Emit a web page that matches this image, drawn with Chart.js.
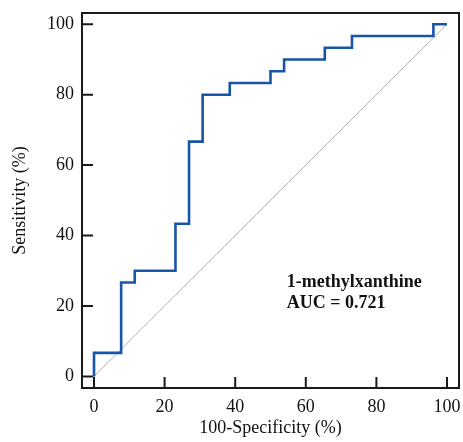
<!DOCTYPE html>
<html>
<head>
<meta charset="utf-8">
<script src="https://cdn.jsdelivr.net/npm/chart.js@4.4.1/dist/chart.umd.min.js"></script>
<style>
  html, body { margin: 0; padding: 0; background: #fff; }
  #wrap { width: 463px; height: 442px; }
</style>
</head>
<body>
<div id="wrap"><canvas id="roc"></canvas></div>
<script>
// ROC curve, 1-methylxanthine
const fpr = [0, 0, 7.69, 7.69, 11.54, 11.54, 23.08, 23.08, 26.92, 26.92, 30.77, 30.77, 38.46, 38.46, 50, 50, 53.85, 53.85, 65.38, 65.38, 73.08, 73.08, 96.15, 96.15, 100];
const tpr = [0, 6.67, 6.67, 26.67, 26.67, 30, 30, 43.33, 43.33, 66.67, 66.67, 80, 80, 83.33, 83.33, 86.67, 86.67, 90, 90, 93.33, 93.33, 96.67, 96.67, 100, 100];
const refX = [0, 100];
const refY = [0, 100];
const tickVals = [0, 20, 40, 60, 80, 100];
const label1 = '1-methylxanthine';
const label2 = 'AUC = 0.721';

const serif = '"Liberation Serif", "Times New Roman", serif';

const framePlugin = {
    id: 'frame',
    afterDraw(chart) {
        var ctx = chart.ctx;
        var a = chart.chartArea;
        var xs = chart.scales.x, ys = chart.scales.y;
        ctx.save();
        ctx.strokeStyle = '#1a1a1a';
        ctx.lineWidth = 2;
        ctx.strokeRect(a.left, a.top, a.right - a.left, a.bottom - a.top);
        // inward ticks
        ctx.beginPath();
        tickVals.forEach(v => {
            var px = xs.getPixelForValue(v);
            ctx.moveTo(px, a.bottom);
            ctx.lineTo(px, a.bottom - 11);
            var py = ys.getPixelForValue(v);
            ctx.moveTo(a.left, py);
            ctx.lineTo(a.left + 11, py);
        });
        ctx.stroke();
        // annotation
        ctx.fillStyle = '#111';
        ctx.font = 'bold 18px ' + serif;
        ctx.textAlign = 'left';
        ctx.textBaseline = 'alphabetic';
        ctx.fillText(label1, xs.getPixelForValue(54.6), ys.getPixelForValue(25.5));
        ctx.fillText(label2, xs.getPixelForValue(54.6), ys.getPixelForValue(19.4));
        ctx.restore();
    }
};

new Chart(document.getElementById('roc'), {
    type: 'scatter',
    data: {
        datasets: [{
                label: 'ROC',
                data: fpr.map((x, i) => ({x: x, y: tpr[i]})),
                showLine: true,
                borderColor: 'rgb(24,84,168)',
                borderWidth: 2.6,
                pointRadius: 0,
                fill: false
            },
            {
                label: 'Reference',
                data: refX.map((x, i) => ({x: x, y: refY[i]})),
                showLine: true,
                borderColor: 'rgb(175,175,175)',
                borderWidth: 1,
                pointRadius: 0,
                fill: false
            }
        ]
    },
    options: {
        responsive: true,
        maintainAspectRatio: false,
        animation: false,
        layout: { padding: { left: 0, right: 4, top: 13, bottom: 0 } },
        plugins: { legend: { display: false }, tooltip: { enabled: false } },
        scales: {
            x: {
                type: 'linear',
                min: -3.4,
                max: 103.4,
                grid: { display: false },
                border: { display: false },
                afterBuildTicks: s => { s.ticks = tickVals.map(v => ({value: v})); },
                afterFit: s => { s.height = 54; },
                ticks: { color: '#111', padding: 0, maxRotation: 0, font: { family: serif, size: 18 } },
                title: { display: true, text: '100-Specificity (%)', color: '#111', padding: { top: 0, bottom: 3 }, font: { family: serif, size: 18 } }
            },
            y: {
                type: 'linear',
                min: -3.3,
                max: 103.2,
                grid: { display: false },
                border: { display: false },
                afterBuildTicks: s => { s.ticks = tickVals.map(v => ({value: v})); },
                afterFit: s => { s.width = 82; },
                ticks: { color: '#111', padding: 0, font: { family: serif, size: 18 } },
                title: { display: true, text: 'Sensitivity (%)', color: '#111', padding: { top: 9, bottom: 0 }, font: { family: serif, size: 18 } }
            }
        }
    },
    plugins: [framePlugin]
});
</script>
</body>
</html>
